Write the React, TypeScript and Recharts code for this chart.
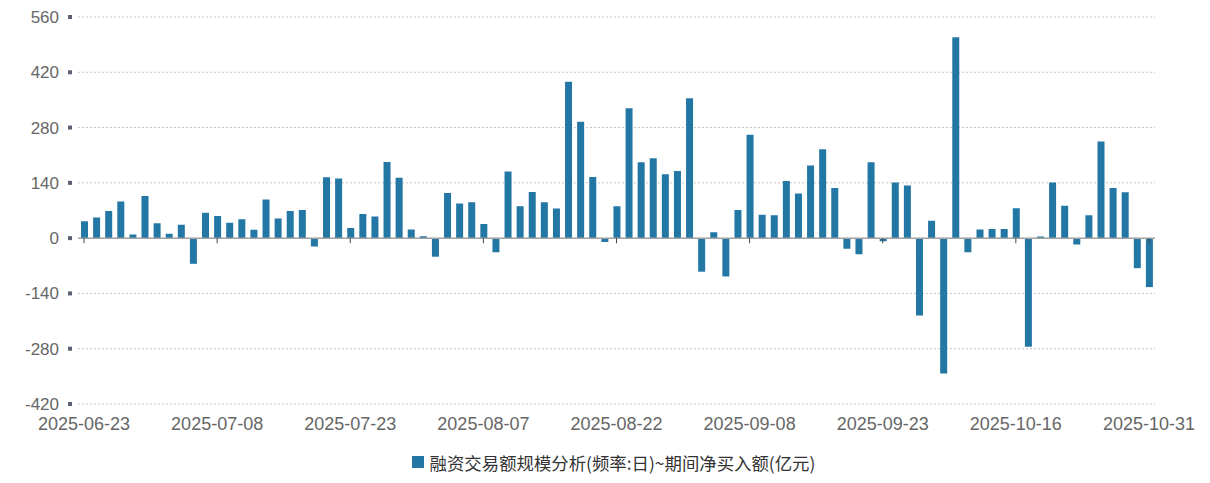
import { BarChart, Bar, XAxis, YAxis, CartesianGrid, ReferenceLine, Legend } from "recharts";

const dates = [
  "2025-06-23", "2025-06-24", "2025-06-25", "2025-06-26", "2025-06-27", "2025-06-30",
  "2025-07-01", "2025-07-02", "2025-07-03", "2025-07-04", "2025-07-07", "2025-07-08",
  "2025-07-09", "2025-07-10", "2025-07-11", "2025-07-14", "2025-07-15", "2025-07-16",
  "2025-07-17", "2025-07-18", "2025-07-21", "2025-07-22", "2025-07-23", "2025-07-24",
  "2025-07-25", "2025-07-28", "2025-07-29", "2025-07-30", "2025-07-31", "2025-08-01",
  "2025-08-04", "2025-08-05", "2025-08-06", "2025-08-07", "2025-08-08", "2025-08-11",
  "2025-08-12", "2025-08-13", "2025-08-14", "2025-08-15", "2025-08-18", "2025-08-19",
  "2025-08-20", "2025-08-21", "2025-08-22", "2025-08-25", "2025-08-26", "2025-08-27",
  "2025-08-28", "2025-08-29", "2025-09-01", "2025-09-02", "2025-09-03", "2025-09-04",
  "2025-09-05", "2025-09-08", "2025-09-09", "2025-09-10", "2025-09-11", "2025-09-12",
  "2025-09-15", "2025-09-16", "2025-09-17", "2025-09-18", "2025-09-19", "2025-09-22",
  "2025-09-23", "2025-09-24", "2025-09-25", "2025-09-26", "2025-09-29", "2025-09-30",
  "2025-10-09", "2025-10-10", "2025-10-13", "2025-10-14", "2025-10-15", "2025-10-16",
  "2025-10-17", "2025-10-20", "2025-10-21", "2025-10-22", "2025-10-23", "2025-10-24",
  "2025-10-27", "2025-10-28", "2025-10-29", "2025-10-30", "2025-10-31",
];

// 期间净买入额(亿元)
const netBuy = [
  43, 52, 69, 93, 9, 107, 38, 11, 34, -65,
  64, 56, 39, 48, 21, 98, 50, 69, 71, -21,
  154, 151, 26, 61, 55, 193, 153, 22, 5, -47,
  114, 88, 91, 36, -36, 169, 81, 117, 91, 75,
  396, 295, 155, -10, 81, 329, 192, 202, 162, 170,
  354, -85, 15, -97, 71, 262, 59, 58, 145, 113,
  184, 225, 127, -27, -41, 192, -8, 141, 133, -196,
  44, -343, 509, -36, 22, 23, 23, 76, -275, 4,
  141, 82, -16, 58, 245, 127, 116, -76, -124,
];

const tickDates = [
  "2025-06-23", "2025-07-08", "2025-07-23", "2025-08-07", "2025-08-22",
  "2025-09-08", "2025-09-23", "2025-10-16", "2025-10-31",
];
const yTicks = [-420, -280, -140, 0, 140, 280, 420, 560];

const seriesName = "融资交易额规模分析(频率:日)~期间净买入额(亿元)";
const barColor = "#2277a4";

const data = dates.map((d, i) => ({ date: d, value: netBuy[i] }));

const YTick = ({ x, y, payload }: any) => (
  <g>
    <text x={x - 19} y={y} dy={6} textAnchor="end" fontSize={17} fill="#666" fontFamily="Liberation Sans, Arial, sans-serif">
      {payload.value}
    </text>
    <rect x={x - 10} y={y - 2} width={4} height={4} fill="#5b6170" />
  </g>
);

const LegendContent = () => (
  <div style={{ display: "flex", justifyContent: "center", alignItems: "center", height: 24, paddingLeft: 64 }}>
    <span style={{ width: 12, height: 12, background: barColor, display: "inline-block", marginRight: 6 }} />
    <span style={{ fontSize: 17.4, color: "#333", fontFamily: "Noto Sans CJK SC, sans-serif" }}>{seriesName}</span>
  </div>
);

export default function App() {
  return (
    <BarChart
      width={1194}
      height={475}
      data={data}
      margin={{ top: 9, right: 47, left: 0, bottom: 9 }}
      barCategoryGap={0}
    >
      <CartesianGrid vertical={false} stroke="#c4c4c4" strokeDasharray="2 2" />
      <XAxis
        dataKey="date"
        interval={10}
        axisLine={false}
        tickLine={false}
        tickSize={0}
        tickMargin={13}
        height={46}
        tick={{ fontSize: 18, fill: "#666", fontFamily: "Liberation Sans, Arial, sans-serif" }}
      />
      <YAxis
        type="number"
        domain={[-420, 560]}
        ticks={yTicks}
        width={70}
        axisLine={false}
        tickLine={false}
        tickSize={0}
        tickMargin={0}
        tick={<YTick />}
        allowDataOverflow
      />
      <Bar dataKey="value" name={seriesName} fill={barColor} barSize={7} isAnimationActive={false} />
      <ReferenceLine y={0} stroke="#a3a3a3" strokeWidth={1.5} />
      {tickDates.map((d) => (
        <ReferenceLine
          key={d}
          segment={[
            { x: d, y: 0 },
            { x: d, y: -13 },
          ]}
          stroke="#444"
          strokeWidth={1}
        />
      ))}
      <Legend verticalAlign="bottom" height={24} content={<LegendContent />} />
    </BarChart>
  );
}
